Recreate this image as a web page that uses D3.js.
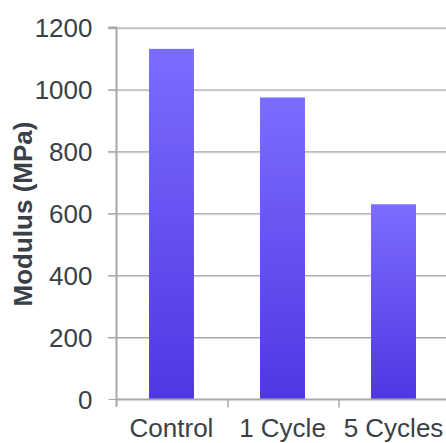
<!DOCTYPE html>
<html><head><meta charset="utf-8">
<script src="https://cdn.jsdelivr.net/npm/d3@7/dist/d3.min.js"></script>
<style>html,body{margin:0;padding:0;background:#fff;overflow:hidden}</style>
</head><body>
<script>
const categories = ["Control", "1 Cycle", "5 Cycles"];
const values = [1131, 974, 629];
const yTicks = [0, 200, 400, 600, 800, 1000, 1200];

const W = 446, H = 443;
const svg = d3.select("body").append("svg").attr("width", W).attr("height", H);
const x0 = 116, x1 = 449, yTop = 27.5, yBot = 399;
const x = d3.scaleBand().domain(categories).range([x0, x1]).paddingInner(0.595).paddingOuter(0.2975);
const y = d3.scaleLinear().domain([0, 1200]).range([yBot, yTop]);

const defs = svg.append("defs");
const g = defs.append("linearGradient").attr("id", "barGrad").attr("x1", 0).attr("y1", 0).attr("x2", 0).attr("y2", 1);
g.append("stop").attr("offset", "0%").attr("stop-color", "#7c6cff");
g.append("stop").attr("offset", "100%").attr("stop-color", "#4f37e2");

// gridlines
const grid = svg.append("g");
yTicks.filter(t => t > 0).forEach(t => {
  grid.append("line").attr("x1", x0 - 8).attr("x2", W).attr("y1", y(t) + 1.5).attr("y2", y(t) + 1.5)
    .attr("stroke", "#dcdcdc").attr("stroke-width", 1);
  grid.append("line").attr("x1", x0 - 8).attr("x2", W).attr("y1", y(t) + 0.5).attr("y2", y(t) + 0.5)
    .attr("stroke", "#9e9e9e").attr("stroke-width", 1);
});

// bars
svg.append("g").selectAll("rect").data(categories).join("rect")
  .attr("x", d => x(d)).attr("width", x.bandwidth())
  .attr("y", (d, i) => y(values[i])).attr("height", (d, i) => yBot - y(values[i]))
  .attr("fill", "url(#barGrad)");

// y axis
const yAxis = d3.axisLeft(y).tickValues(yTicks).tickSize(8).tickPadding(16).tickFormat(d3.format("d"));
const ya = svg.append("g").attr("transform", `translate(${x0 + 0.5},0)`).call(yAxis);
ya.select(".domain").attr("stroke", "#a8a8a8").attr("stroke-width", 2).attr("d", `M-8,${yTop}H0V${yBot + 8}`);
ya.selectAll(".tick line").attr("stroke", "#a8a8a8");
ya.selectAll(".tick text").attr("font-family", "Liberation Sans, Arial, sans-serif").attr("font-size", 26)
  .attr("fill", "#3a3f47").attr("dy", "0.35em");

// x axis
const xAxis = d3.axisBottom(d3.scaleLinear().domain([0, 3]).range([x0, x0 + 3 * x.step()]))
  .tickValues([1, 2]).tickSize(8).tickFormat("");
const xa = svg.append("g").attr("transform", `translate(0.5,${yBot + 0.5})`).call(xAxis);
xa.select(".domain").attr("stroke", "#a8a8a8").attr("stroke-width", 2).attr("d", `M${x0},0H${W}`);
xa.selectAll(".tick line").attr("stroke", "#a8a8a8").attr("stroke-width", 1.5);

svg.append("g").selectAll("text").data(categories).join("text")
  .attr("x", d => x(d) + x.bandwidth() / 2).attr("y", 437)
  .attr("text-anchor", "middle")
  .attr("font-family", "Liberation Sans, Arial, sans-serif").attr("font-size", 26).attr("fill", "#3a3f47")
  .text(d => d);

// y title
svg.append("text").attr("transform", "translate(32,214) rotate(-90)")
  .attr("text-anchor", "middle")
  .attr("font-family", "Liberation Sans, Arial, sans-serif").attr("font-size", 26).attr("font-weight", "bold")
  .attr("fill", "#3a3f47").text("Modulus (MPa)");
</script>
</body></html>
